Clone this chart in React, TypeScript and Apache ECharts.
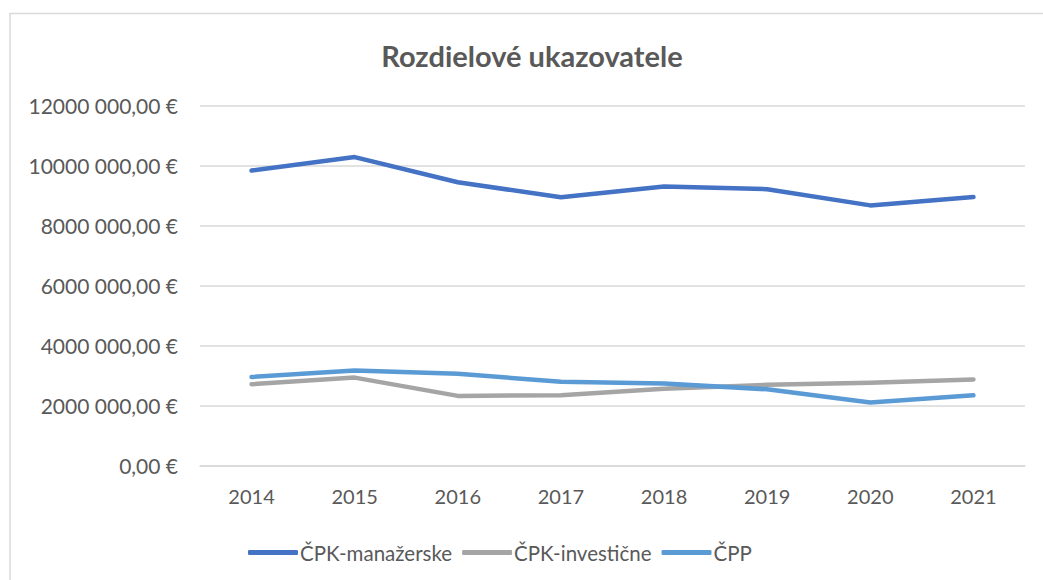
import React, { useEffect, useRef } from "react";
import * as echarts from "echarts";

const titleText = "Rozdielové ukazovatele";
const years = ["2014", "2015", "2016", "2017", "2018", "2019", "2020", "2021"];
const seriesNames = ["ČPK-manažerske", "ČPK-investičné".replace("é", "e"), "ČPP"];
const manazerske = [9830000, 10280000, 9440000, 8940000, 9300000, 9210000, 8670000, 8950000];
const investicne = [2710000, 2930000, 2320000, 2340000, 2560000, 2690000, 2760000, 2870000];
const cpp = [2950000, 3170000, 3060000, 2790000, 2730000, 2540000, 2100000, 2340000];
const colors = ["#4472C4", "#A5A5A5", "#5B9BD5"];

const FONT = "Lato, 'Open Sans', sans-serif";
const TXT = "#595959";

function fmt(v: number): string {
  if (v === 0) return "0,00 €";
  const th = Math.floor(v / 1000);
  const rest = String(v % 1000).padStart(3, "0");
  return `${th} ${rest},00 €`;
}

export default function App() {
  const ref = useRef<HTMLDivElement>(null);
  useEffect(() => {
    if (!ref.current) return;
    const chart = echarts.init(ref.current, undefined, { renderer: "svg" });
    const data = [manazerske, investicne, cpp];
    chart.setOption({
      animation: false,
      backgroundColor: "#ffffff",
      textStyle: { fontFamily: FONT },
      graphic: [
        {
          type: "rect",
          shape: { x: 10, y: 13.5, width: 1100, height: 700 },
          style: { fill: "none", stroke: "#d9d9d9", lineWidth: 1.5 },
          silent: true,
        },
        {
          type: "text",
          x: 532,
          y: 55,
          style: {
            text: titleText,
            fill: TXT,
            font: `bold 29px ${FONT}`,
            textAlign: "center",
            textVerticalAlign: "middle",
          },
        },
      ],
      legend: {
        left: 243,
        top: 537,
        itemWidth: 50,
        itemHeight: 5,
        itemGap: 10,
        icon: "roundRect",
        textStyle: { color: TXT, fontSize: 20.5, fontFamily: FONT, padding: [0, 0, 0, -3] },
        data: seriesNames,
      },
      grid: { left: 200, right: 18, top: 105.5, bottom: 114.5, containLabel: false },
      xAxis: {
        type: "category",
        data: years,
        boundaryGap: true,
        axisLine: { show: true, lineStyle: { color: "#d9d9d9", width: 1.5 } },
        axisTick: { show: false },
        axisLabel: { color: TXT, fontSize: 20, fontFamily: FONT, margin: 20 },
      },
      yAxis: {
        type: "value",
        min: 0,
        max: 12000000,
        interval: 2000000,
        axisLine: { show: false },
        axisTick: { show: false },
        splitLine: { lineStyle: { color: "#d9d9d9", width: 1.5 } },
        axisLabel: { color: TXT, fontSize: 21, fontFamily: FONT, margin: 22, formatter: fmt },
      },
      series: seriesNames.map((n, i) => ({
        name: n,
        type: "line",
        data: data[i],
        symbol: "none",
        color: colors[i],
        lineStyle: { width: 4.5, color: colors[i], cap: "round", join: "round" },
      })),
    });
    return () => chart.dispose();
  }, []);
  return (
    <div
      ref={ref}
      style={{ position: "absolute", left: 0, top: 0, width: 1043, height: 580 }}
    />
  );
}
